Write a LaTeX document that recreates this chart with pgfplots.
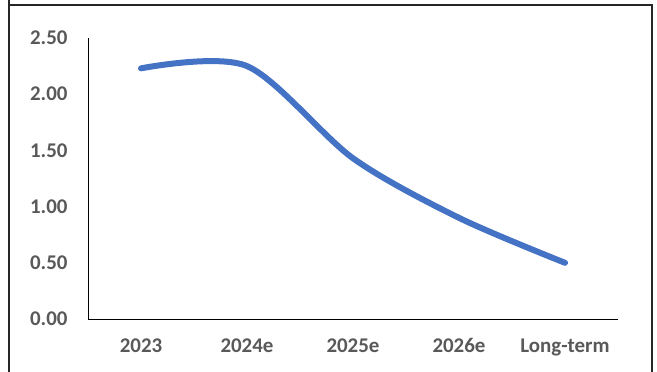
\documentclass[border=0pt]{standalone}
\usepackage{pgfplots}
\pgfplotsset{compat=1.18}
\usepackage{fontspec}
\setmainfont{Carlito}
\definecolor{linecol}{HTML}{4472C4}
\definecolor{labcol}{HTML}{595959}
\begin{document}
\begin{tikzpicture}[x=1bp,y=1bp]
\useasboundingbox (0,0) rectangle (657,371);
% outer chart frame (runs past the lower edge)
\draw[line width=1.3bp, color=black!85] (9,390) -- (9,366) -- (652,366) -- (652,-20);
\draw[line width=1.3bp, color=black!85] (9,366) -- (9,-20);
\begin{axis}[
  at={(88bp,52bp)}, anchor=south west,
  scale only axis,
  width=530bp, height=281bp,
  xmin=-0.5, xmax=4.5,
  ymin=0, ymax=2.5,
  axis x line=bottom, axis y line=left,
  axis line style={-, black, line width=0.9bp},
  xtick={0,1,2,3,4},
  xticklabels={2023,2024e,2025e,2026e,Long-term},
  ytick={0,0.5,1,1.5,2,2.5},
  yticklabel style={/pgf/number format/fixed, /pgf/number format/fixed zerofill, /pgf/number format/precision=2, /tikz/xshift=-17bp},
  /pgf/number format/assume math mode=true,
  major tick length=0pt,
  tick label style={font=\fontsize{21}{24}\selectfont\bfseries, text=labcol},
  xticklabel style={yshift=-16bp},
  clip=false,
]
\addplot[linecol, line width=6bp, line cap=round, smooth, tension=0.5]
  coordinates {(0,2.23) (1,2.25) (2,1.43) (3,0.90) (4,0.50)};
\end{axis}
\end{tikzpicture}
\end{document}
